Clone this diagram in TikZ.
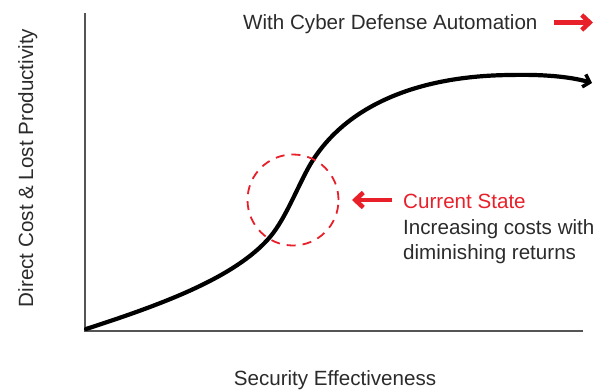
\documentclass[tikz,border=0pt]{standalone}
\usepackage{fontspec}
\setmainfont{Liberation Sans}
\usetikzlibrary{arrows.meta}
\definecolor{cdred}{HTML}{E8202A}
\definecolor{txt}{HTML}{2B2B2B}
\definecolor{axisgray}{HTML}{555555}
\begin{document}
\begin{tikzpicture}[x=1pt,y=-1pt,
  lbl/.style={font=\fontsize{20.6}{25.5}\selectfont, text=txt, inner sep=0pt},
  axisline/.style={draw=axisgray, line width=1.1pt},
  redarrow/.style={draw=cdred, line width=4.5pt, -{Straight Barb[length=8pt,width=15pt,line width=4.5pt]}},
  curve/.style={draw=black, line width=4.2pt, line cap=round, -{Straight Barb[length=6pt,width=13pt,line width=3.5pt]}},
  zone/.style={draw=cdred, line width=1.8pt, dash pattern=on 9pt off 7pt}]
\useasboundingbox (0,0) rectangle (601,389);
% axes
\coordinate (origin) at (85,331);
\coordinate (ytop) at (85,13);
\coordinate (xend) at (583,331);
\draw[axisline] (ytop) -- (origin) -- (xend);
% labels
\node[lbl, anchor=base] (xlabel) at (335,385) {Security Effectiveness};
\node[lbl, anchor=base, rotate=90] (ylabel) at (33,168) {Direct Cost \& Lost Productivity};
% top
\node[lbl, anchor=base west] (auto) at (243,29) {With Cyber Defense Automation};
\coordinate (a1s) at (554,22.5);
\coordinate (a1e) at (593,22.5);
\draw[redarrow] (a1s) -- (a1e);
% curve
\coordinate (c0) at (86,329);
\coordinate (c1) at (270,237);
\coordinate (c2) at (313,160);
\coordinate (c3) at (510,75);
\coordinate (c4) at (592,83);
\draw[curve] (c0) .. controls (160,305) and (235,278) .. (c1)
  .. controls (287,217) and (300,180) .. (c2)
  .. controls (345,110) and (410,76) .. (c3)
  .. controls (550,74) and (575,78) .. (c4);
% zone
\node[zone, circle, minimum size=91pt, inner sep=0pt] (zone) at (293,200) {};
% current state
\coordinate (a2s) at (392,200);
\coordinate (a2e) at (352,200);
\draw[redarrow] (a2s) -- (a2e);
\node[lbl, anchor=north west, align=left] (state) at (403,194) {\textcolor{cdred}{Current State}\\Increasing costs with\\diminishing returns};
\end{tikzpicture}
\end{document}
